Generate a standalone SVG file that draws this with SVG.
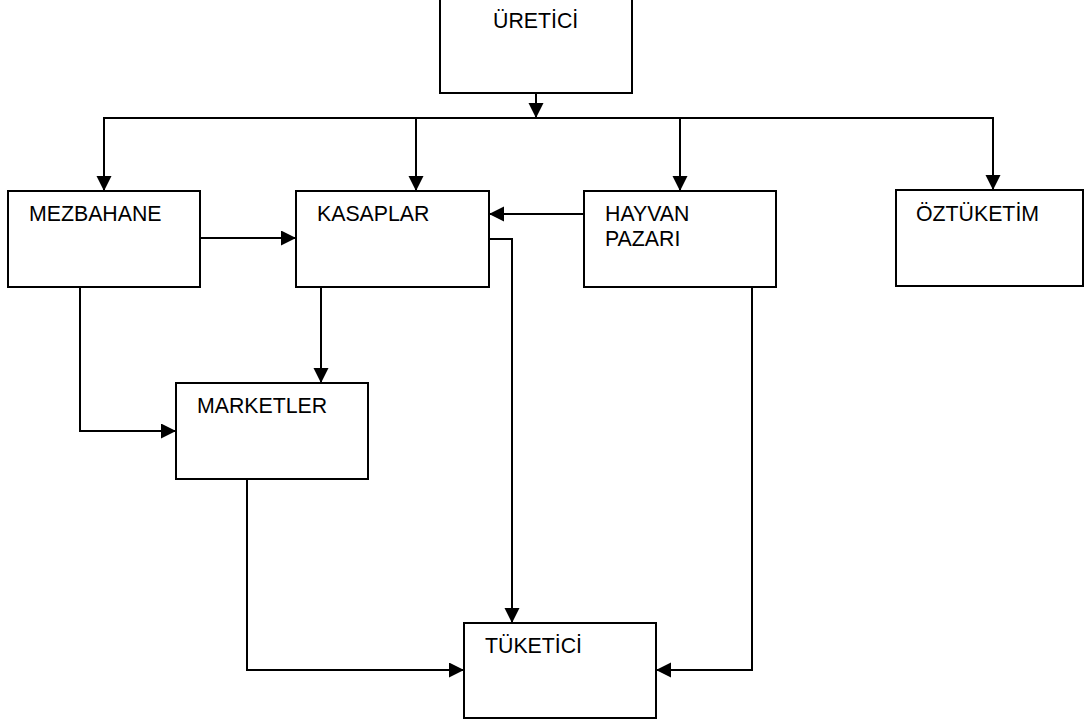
<svg xmlns="http://www.w3.org/2000/svg" width="1084" height="724" viewBox="0 0 1084 724">
  <style>
    .box { fill: #fff; stroke: #000; stroke-width: 2; }
    .lbl { font-family: "Liberation Sans", Arial, sans-serif; font-size: 21.3px; fill: #000; }
    .con { fill: none; stroke: #000; stroke-width: 2; }
    .arr { marker-end: url(#ah); }
  </style>
  <defs>
    <marker id="ah" markerUnits="userSpaceOnUse" markerWidth="16" markerHeight="16" refX="15" refY="7.5" orient="auto">
      <path d="M0,0 L15,7.5 L0,15 z" fill="#000"/>
    </marker>
  </defs>
  <rect width="1084" height="724" fill="#fff"/>

  <g id="connectors">
    <line class="con arr" x1="536" y1="93" x2="536" y2="118"/>
    <line class="con" x1="103" y1="118" x2="994" y2="118"/>
    <line class="con arr" x1="104" y1="118" x2="104" y2="191"/>
    <line class="con arr" x1="416" y1="118" x2="416" y2="191"/>
    <line class="con arr" x1="680" y1="118" x2="680" y2="191"/>
    <line class="con arr" x1="993" y1="118" x2="993" y2="190"/>
    <line class="con arr" x1="200" y1="238" x2="296" y2="238"/>
    <line class="con arr" x1="584" y1="214" x2="489" y2="214"/>
    <polyline class="con arr" points="489,239 512,239 512,623"/>
    <line class="con arr" x1="321" y1="287" x2="321" y2="383"/>
    <polyline class="con arr" points="80,287 80,431 176,431"/>
    <polyline class="con arr" points="247,479 247,670 464,670"/>
    <polyline class="con arr" points="752,287 752,670 656,670"/>
  </g>

  <g id="uretici">
    <rect class="box" x="440" y="-3" width="192" height="96"/>
    <text class="lbl" x="493" y="28">ÜRETİCİ</text>
  </g>
  <g id="mezbahane">
    <rect class="box" x="8" y="191" width="192" height="96"/>
    <text class="lbl" x="29" y="221">MEZBAHANE</text>
  </g>
  <g id="kasaplar">
    <rect class="box" x="296" y="191" width="193" height="96"/>
    <text class="lbl" x="317" y="221">KASAPLAR</text>
  </g>
  <g id="hayvan-pazari">
    <rect class="box" x="584" y="191" width="192" height="96"/>
    <text class="lbl" x="605" y="221">HAYVAN</text>
    <text class="lbl" x="605" y="246">PAZARI</text>
  </g>
  <g id="oztuketim">
    <rect class="box" x="896" y="190" width="187" height="96"/>
    <text class="lbl" x="916" y="221">ÖZTÜKETİM</text>
  </g>
  <g id="marketler">
    <rect class="box" x="176" y="383" width="192" height="96"/>
    <text class="lbl" x="197" y="413">MARKETLER</text>
  </g>
  <g id="tuketici">
    <rect class="box" x="464" y="623" width="192" height="95"/>
    <text class="lbl" x="485" y="653">TÜKETİCİ</text>
  </g>
</svg>
